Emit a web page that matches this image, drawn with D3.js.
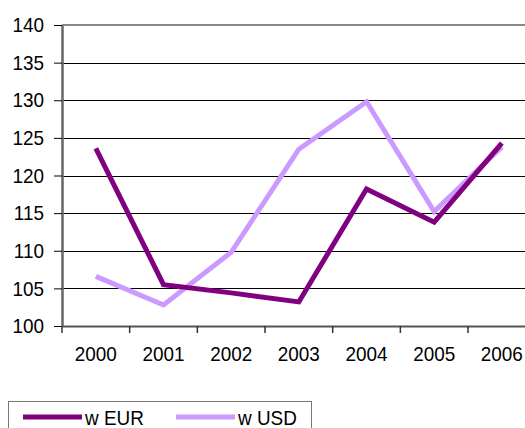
<!DOCTYPE html>
<html>
<head>
<meta charset="utf-8">
<script src="https://cdnjs.cloudflare.com/ajax/libs/d3/7.8.5/d3.min.js"></script>
<style>
  body { margin: 0; background: #fff; overflow: hidden; }
  text { font-family: "Liberation Sans", Arial, sans-serif; fill: #000; }
</style>
</head>
<body>
<svg id="chart" width="525" height="428"></svg>
<script>
// Data
const years = ["2000", "2001", "2002", "2003", "2004", "2005", "2006"];
const eurValues = [123.6, 105.5, 104.4, 103.2, 118.2, 113.8, 124.3];
const usdValues = [106.6, 102.8, 109.8, 123.5, 129.8, 115.2, 123.8];
const yTicks = [100, 105, 110, 115, 120, 125, 130, 135, 140];
const seriesNames = ["w EUR", "w USD"];
const seriesColors = ["#800080", "#cc99ff"];

const svg = d3.select("#chart");

// Plot area (extends past the right edge, as in the reference)
const plotLeft = 62, plotTop = 25, plotBottom = 326, step = 67.67;
const plotRight = plotLeft + step * years.length;

const x = d3.scaleBand().domain(years).range([plotLeft, plotRight]);
const y = d3.scaleLinear().domain([100, 140]).range([plotBottom, plotTop]);

// Horizontal gridlines
svg.append("g")
  .selectAll("line")
  .data(yTicks.filter(d => d !== 100 && d !== 140))
  .enter().append("line")
  .attr("x1", plotLeft).attr("x2", plotRight)
  .attr("y1", d => Math.round(y(d)) + 0.5).attr("y2", d => Math.round(y(d)) + 0.5)
  .attr("stroke", "#000").attr("stroke-width", 1);

// Top border
svg.append("line")
  .attr("x1", plotLeft).attr("x2", plotRight)
  .attr("y1", y(140)).attr("y2", y(140))
  .attr("stroke", "#888").attr("stroke-width", 2);

// Y axis
const yAxis = svg.append("g")
  .attr("transform", `translate(${plotLeft},0)`)
  .call(d3.axisLeft(y).tickValues(yTicks).tickSize(8).tickPadding(10).tickSizeOuter(0));
yAxis.select(".domain").attr("stroke", "#666").attr("stroke-width", 2.5);
yAxis.selectAll(".tick line").attr("stroke", "#000");

// X axis, ticks between categories
const xAxis = svg.append("g")
  .attr("transform", `translate(0,${plotBottom})`)
  .call(d3.axisBottom(x).tickSize(0).tickPadding(20).tickSizeOuter(0));
xAxis.select(".domain").attr("stroke", "#555").attr("stroke-width", 2);
xAxis.selectAll(".sep")
  .data(years)
  .enter().append("line")
  .attr("class", "sep")
  .attr("x1", d => x(d)).attr("x2", d => x(d))
  .attr("y1", 0).attr("y2", 7)
  .attr("stroke", "#333").attr("stroke-width", 1.5);

// Lines
const line = d3.line()
  .x((d, i) => x(years[i]) + x.bandwidth() / 2)
  .y(d => y(d));

const paths = [eurValues, usdValues].map((vals, i) =>
  svg.append("path")
    .datum(vals)
    .attr("d", line)
    .attr("fill", "none")
    .attr("stroke", seriesColors[i])
    .attr("stroke-width", 5)
    .attr("stroke-linejoin", "miter")
);
// EUR on top at the crossing near 2006
paths[0].raise();

// Legend
const legend = svg.append("g");
legend.append("rect")
  .attr("x", 8.5).attr("y", 401.5)
  .attr("width", 303).attr("height", 40)
  .attr("fill", "#fff").attr("stroke", "#777").attr("stroke-width", 1);

const legendX = [23, 176];
seriesNames.forEach((name, i) => {
  legend.append("line")
    .attr("x1", legendX[i]).attr("x2", legendX[i] + 59)
    .attr("y1", 417).attr("y2", 417)
    .attr("stroke", seriesColors[i]).attr("stroke-width", 5);
  legend.append("text")
    .attr("x", legendX[i] + 62).attr("y", 425)
    .text(name);
});

// Tall, slightly condensed text like the original export
svg.selectAll("text")
  .attr("font-family", "Liberation Sans, Arial, sans-serif")
  .style("font-size", "21px")
  .each(function () {
    const w = this.getComputedTextLength();
    d3.select(this)
      .attr("textLength", w * 0.9)
      .attr("lengthAdjust", "spacingAndGlyphs");
  });
</script>
</body>
</html>
